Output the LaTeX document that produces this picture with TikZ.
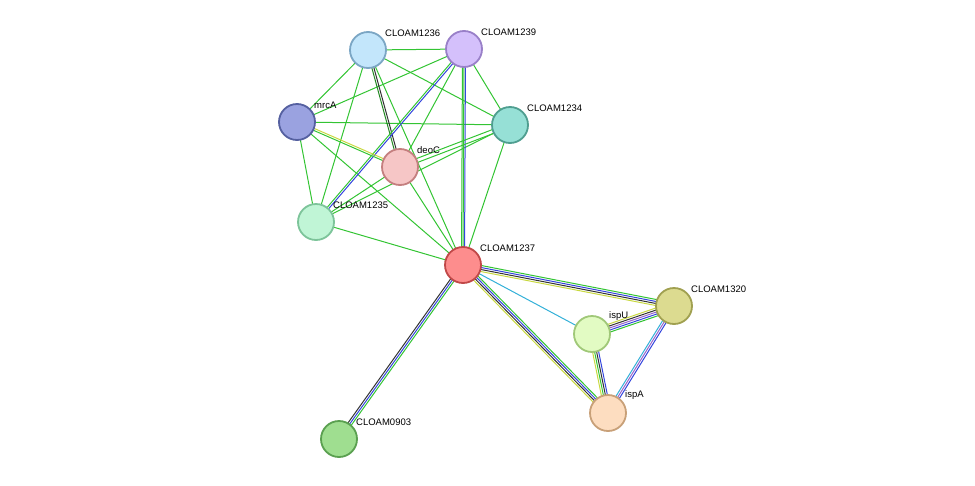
\documentclass[tikz,border=0pt]{standalone}
\usepackage{fontspec}
\setmainfont{Liberation Sans}
\usetikzlibrary{calc}
\tikzset{
  prot/.style={circle, minimum size=36pt, inner sep=0pt, line width=1.8pt},
  lbl/.style={font=\fontsize{9.5pt}{11pt}\selectfont, anchor=south west, inner sep=1pt},
  ev/.style={line width=1pt}
}
\definecolor{evgreen}{HTML}{33C433}
\definecolor{evblue}{HTML}{3344DD}
\definecolor{evdark}{HTML}{333333}
\definecolor{evyellow}{HTML}{C8D840}
\definecolor{evcyan}{HTML}{33B0D8}
\definecolor{evpurple}{HTML}{9966CC}
% protein fill / border
\definecolor{fA}{HTML}{C3E6FB}\definecolor{dA}{HTML}{7BA6C4}
\definecolor{fB}{HTML}{D4C0FB}\definecolor{dB}{HTML}{9980C8}
\definecolor{fC}{HTML}{9AA2E0}\definecolor{dC}{HTML}{5560A0}
\definecolor{fD}{HTML}{96E0D6}\definecolor{dD}{HTML}{4F9E90}
\definecolor{fE}{HTML}{F6C6C6}\definecolor{dE}{HTML}{C47F7F}
\definecolor{fF}{HTML}{C0F5D6}\definecolor{dF}{HTML}{7DC49A}
\definecolor{fG}{HTML}{FD8D8D}\definecolor{dG}{HTML}{C04848}
\definecolor{fH}{HTML}{DCDB90}\definecolor{dH}{HTML}{A0A050}
\definecolor{fI}{HTML}{E2FBC3}\definecolor{dI}{HTML}{A0C878}
\definecolor{fJ}{HTML}{FDDDC0}\definecolor{dJ}{HTML}{C8A078}
\definecolor{fK}{HTML}{9FDE90}\definecolor{dK}{HTML}{5AA050}
% offset edge between two named nodes
\newcommand{\oedge}[4]{\draw[ev,#4] ($(#1)!#3!90:(#2)$) -- ($(#2)!#3!-90:(#1)$);}
\begin{document}
\begin{tikzpicture}[x=1pt,y=-1pt]
    \useasboundingbox (0,0) rectangle (975,485);
    % Nodes
    \coordinate (c1236) at (368,50);
    \coordinate (c1239) at (464,49);
    \coordinate (mrcA) at (297,122);
    \coordinate (c1234) at (510,125);
    \coordinate (deoC) at (400,167);
    \coordinate (c1235) at (316,222);
    \coordinate (c1237) at (463,265);
    \coordinate (c1320) at (674,306);
    \coordinate (ispU) at (592,334);
    \coordinate (ispA) at (608,413);
    \coordinate (c0903) at (339,439);

    % Edges
    \foreach \a/\b in {c1236/c1239, c1236/mrcA, c1236/c1234, c1236/c1235, c1236/c1237,
        c1239/mrcA, c1239/c1234, c1239/deoC, c1239/c1237,
        mrcA/c1234, mrcA/c1235, mrcA/c1237,
        c1234/c1235, c1234/c1237, deoC/c1237, c1235/c1237, deoC/c1235}
        \draw[ev, evgreen] (\a) -- (\b);
    \oedge{c1236}{deoC}{1pt}{evdark}
    \oedge{c1236}{deoC}{-1pt}{evgreen!70!black}
    \oedge{c1239}{c1235}{1pt}{evblue}
    \oedge{c1239}{c1235}{-1pt}{evgreen}
    \oedge{c1239}{c1237}{1.5pt}{evblue}
    \oedge{c1239}{c1237}{-1.5pt}{evgreen}
    \oedge{mrcA}{deoC}{1pt}{evyellow}
    \oedge{mrcA}{deoC}{-1pt}{evgreen}
    \oedge{c1234}{deoC}{2pt}{evgreen}
    \oedge{c1234}{deoC}{-2pt}{evgreen}
    % lower cluster
    \oedge{c1237}{c1320}{3pt}{evgreen}
    \oedge{c1237}{c1320}{1pt}{evblue}
    \oedge{c1237}{c1320}{-1pt}{evdark}
    \oedge{c1237}{c1320}{-3pt}{evyellow}
    \draw[ev, evcyan] (c1237) -- (ispU);
    \oedge{c1237}{ispA}{3pt}{evgreen}
    \oedge{c1237}{ispA}{1pt}{evblue}
    \oedge{c1237}{ispA}{-1pt}{evdark}
    \oedge{c1237}{ispA}{-3pt}{evyellow}
    \oedge{c1237}{c0903}{2pt}{evgreen}
    \oedge{c1237}{c0903}{0pt}{evblue}
    \oedge{c1237}{c0903}{-2pt}{evdark}
    \oedge{c1320}{ispU}{4pt}{evgreen}
    \oedge{c1320}{ispU}{2pt}{evblue}
    \oedge{c1320}{ispU}{0pt}{evpurple}
    \oedge{c1320}{ispU}{-2pt}{evdark}
    \oedge{c1320}{ispU}{-4pt}{evyellow}
    \oedge{c1320}{ispA}{2pt}{evblue}
    \oedge{c1320}{ispA}{0pt}{evpurple}
    \oedge{c1320}{ispA}{-2pt}{evcyan}
    \oedge{ispU}{ispA}{3pt}{evblue}
    \oedge{ispU}{ispA}{1pt}{evdark}
    \oedge{ispU}{ispA}{-1pt}{evgreen}
    \oedge{ispU}{ispA}{-3pt}{evyellow}

    % Proteins
    \node[prot, fill=fA, draw=dA] (n1236) at (c1236) {};
    \node[prot, fill=fB, draw=dB] (n1239) at (c1239) {};
    \node[prot, fill=fC, draw=dC] (nmrcA) at (mrcA) {};
    \node[prot, fill=fD, draw=dD] (n1234) at (c1234) {};
    \node[prot, fill=fE, draw=dE] (ndeoC) at (deoC) {};
    \node[prot, fill=fF, draw=dF] (n1235) at (c1235) {};
    \node[prot, fill=fG, draw=dG] (n1237) at (c1237) {};
    \node[prot, fill=fH, draw=dH] (n1320) at (c1320) {};
    \node[prot, fill=fI, draw=dI] (nispU) at (ispU) {};
    \node[prot, fill=fJ, draw=dJ] (nispA) at (ispA) {};
    \node[prot, fill=fK, draw=dK] (n0903) at (c0903) {};

    % Labels
    \node[lbl] at ($(c1236)+(16,-12)$) {CLOAM1236};
    \node[lbl] at ($(c1239)+(16,-12)$) {CLOAM1239};
    \node[lbl] at ($(mrcA)+(16,-12)$) {mrcA};
    \node[lbl] at ($(c1234)+(16,-12)$) {CLOAM1234};
    \node[lbl] at ($(deoC)+(16,-12)$) {deoC};
    \node[lbl] at ($(c1235)+(16,-12)$) {CLOAM1235};
    \node[lbl] at ($(c1237)+(16,-12)$) {CLOAM1237};
    \node[lbl] at ($(c1320)+(16,-12)$) {CLOAM1320};
    \node[lbl] at ($(ispU)+(16,-12)$) {ispU};
    \node[lbl] at ($(ispA)+(16,-12)$) {ispA};
    \node[lbl] at ($(c0903)+(16,-12)$) {CLOAM0903};
\end{tikzpicture}
\end{document}
